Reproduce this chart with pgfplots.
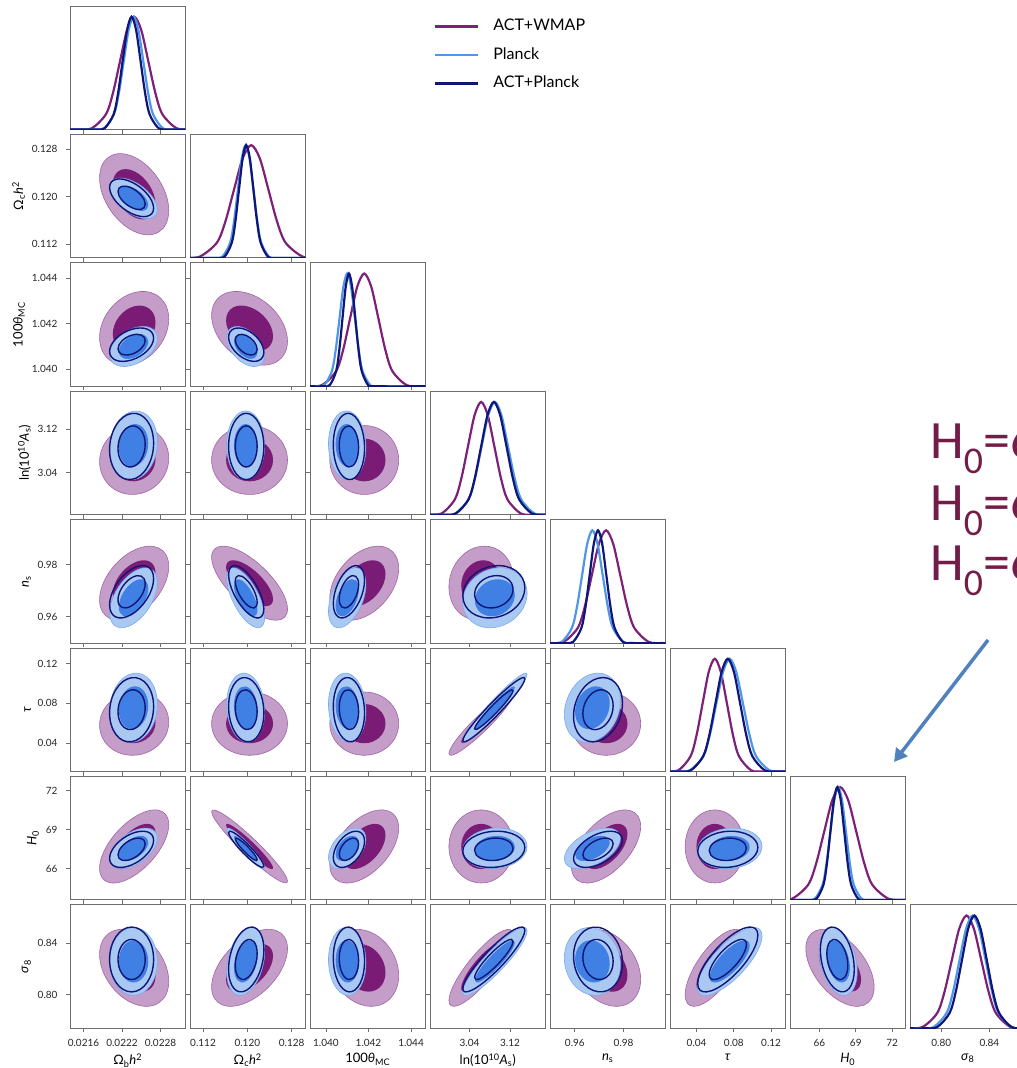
\documentclass[border=0pt]{standalone}
\usepackage{fontspec}
\setmainfont{Lato}
\newfontfamily\calib{Carlito}
\usepackage{pgfplots}
\pgfplotsset{compat=1.18}
\usetikzlibrary{arrows.meta}
\definecolor{awline}{RGB}{125,32,122}
\definecolor{awlt}{RGB}{196,158,201}
\definecolor{awedge}{RGB}{160,100,165}
\definecolor{awdk}{RGB}{122,28,118}
\definecolor{pline}{RGB}{80,150,232}
\definecolor{plt}{RGB}{170,201,242}
\definecolor{pedge}{RGB}{120,170,240}
\definecolor{pdk}{RGB}{64,128,228}
\definecolor{navy}{RGB}{16,22,120}
\definecolor{hcol}{RGB}{116,28,72}
\definecolor{arrowc}{RGB}{79,129,189}
\definecolor{frame}{RGB}{110,110,110}
\pgfplotsset{
 cp/.style={scale only axis, width=115.5pt, height=123.5pt, anchor=north west,
  axis line style={draw=frame, line width=0.9pt},
  tick align=outside, major tick length=4pt,
  every tick/.style={frame, line width=0.9pt},
  xtick pos=bottom, ytick pos=left, scaled ticks=false,
  xticklabels={,,}, yticklabels={,,},
  xticklabel shift=3.5pt, yticklabel shift=5pt,
  ticklabel style={font=\fontsize{10}{12}\selectfont, text=black!85},
  label style={font=\fontsize{13}{15}\selectfont}, clip=true},
 dg/.style={cp, ymin=0, ymax=1.095, ytick=\empty},
 xOb/.style={xmin=0.02139,xmax=0.02319,xtick={0.0216,0.0222,0.0228}},
 xOc/.style={xmin=0.10965,xmax=0.1305,xtick={0.112,0.120,0.128}},
 xTh/.style={xmin=1.03925,xmax=1.04468,xtick={1.040,1.042,1.044}},
 xAs/.style={xmin=2.962,xmax=3.190,xtick={3.04,3.12}},
 xns/.style={xmin=0.9498,xmax=0.9972,xtick={0.96,0.98}},
 xtau/.style={xmin=0.0114,xmax=0.1355,xtick={0.04,0.08,0.12}},
 xH/.style={xmin=63.58,xmax=73.1,xtick={66,69,72}},
 xs8/.style={xmin=0.774,xmax=0.870,xtick={0.80,0.84}},
 yOc/.style={ymin=0.10965,ymax=0.1305,ytick={0.112,0.120,0.128}},
 yTh/.style={ymin=1.03925,ymax=1.04468,ytick={1.040,1.042,1.044}},
 yAs/.style={ymin=2.962,ymax=3.190,ytick={3.04,3.12}},
 yns/.style={ymin=0.9498,ymax=0.9972,ytick={0.96,0.98}},
 ytau/.style={ymin=0.0114,ymax=0.1355,ytick={0.04,0.08,0.12}},
 yH/.style={ymin=63.58,ymax=73.1,ytick={66,69,72}},
 ys8/.style={ymin=0.774,ymax=0.870,ytick={0.80,0.84}},
 bOb/.style={xticklabels={0.0216,0.0222,0.0228},xlabel={Ω\textsubscript{b}\textit{h}\textsuperscript{2}}},
 bOc/.style={xticklabels={0.112,0.120,0.128},xlabel={Ω\textsubscript{c}\textit{h}\textsuperscript{2}}},
 bTh/.style={xticklabels={1.040,1.042,1.044},xlabel={100\textit{θ}\textsubscript{MC}}},
 bAs/.style={xticklabels={3.04,3.12},xlabel={ln(10\textsuperscript{10}\textit{A}\textsubscript{s})}},
 bns/.style={xticklabels={0.96,0.98},xlabel={\textit{n}\textsubscript{s}}},
 btau/.style={xticklabels={0.04,0.08,0.12},xlabel={\textit{τ}}},
 bH/.style={xticklabels={66,69,72},xlabel={\textit{H}\textsubscript{0}}},
 bs8/.style={xticklabels={0.80,0.84},xlabel={\textit{σ}\textsubscript{8}}},
 lOc/.style={yticklabels={0.112,0.120,0.128},ylabel={Ω\textsubscript{c}\textit{h}\textsuperscript{2}}},
 lTh/.style={yticklabels={1.040,1.042,1.044},ylabel={100\textit{θ}\textsubscript{MC}}},
 lAs/.style={yticklabels={3.04,3.12},ylabel={ln(10\textsuperscript{10}\textit{A}\textsubscript{s})}},
 lns/.style={yticklabels={0.96,0.98},ylabel={\textit{n}\textsubscript{s}}},
 ltau/.style={yticklabels={0.04,0.08,0.12},ylabel={\textit{τ}}},
 lH/.style={yticklabels={66,69,72},ylabel={\textit{H}\textsubscript{0}}},
 ls8/.style={yticklabels={0.80,0.84},ylabel={\textit{σ}\textsubscript{8}}},
 AW2/.style={fill=awlt, draw=awedge, line width=0.6pt, smooth cycle, tension=1},
 AW1/.style={fill=awdk, draw=none, smooth cycle, tension=1},
 P2/.style={fill=plt, draw=pedge, line width=0.6pt, smooth cycle, tension=1},
 P1/.style={fill=pdk, draw=none, smooth cycle, tension=1},
 AP2/.style={draw=navy, fill=none, line width=1.4pt, smooth cycle, tension=1},
 AP1/.style={draw=navy, fill=none, line width=1.4pt, smooth cycle, tension=1},
 dAW/.style={awline, line width=2.2pt, smooth},
 dP/.style={pline, line width=2.2pt, smooth},
 dAP/.style={navy, line width=2.2pt, smooth},
}
\begin{document}
\begin{tikzpicture}
% ===== Row 1 =====
\begin{axis}[dg,xOb,at={(70pt,-6pt)},
  legend style={draw=none, fill=none, at={(axis description cs:3.122,0.92)}, anchor=north west,
  font=\fontsize{16}{19}\selectfont, row sep=11.5pt, nodes={inner sep=1pt, text height=11.5pt, text depth=3.5pt}},
  legend cell align=left,
  legend image code/.code={\draw[#1, line width=2.8pt] (0pt,0pt) -- (43pt,0pt); \path (56pt,0pt);}]
\addplot[dAW] coordinates {(0.02139,0) (0.02151,0.0003) (0.02173,0.0111) (0.02195,0.1353) (0.02206,0.3247) (0.02217,0.6065) (0.02228,0.8825) (0.02239,1) (0.0225,0.8825) (0.02261,0.6065) (0.02272,0.3247) (0.02283,0.1353) (0.02305,0.0111) (0.02327,0.0003)};
\addlegendentry{ACT+WMAP}
\addplot[dP] coordinates {(0.02139,0) (0.021772,0.0003) (0.021924,0.0111) (0.022076,0.1353) (0.022152,0.3247) (0.022228,0.6065) (0.022304,0.8825) (0.02238,1) (0.022456,0.8825) (0.022532,0.6065) (0.022608,0.3247) (0.022684,0.1353) (0.022836,0.0111) (0.022988,0.0003) (0.02319,0)};
\addlegendentry{Planck}
\addplot[dAP] coordinates {(0.02139,0) (0.02179,0.0003) (0.02193,0.0111) (0.02207,0.1353) (0.02214,0.3247) (0.02221,0.6065) (0.02228,0.8825) (0.02235,1) (0.02242,0.8825) (0.02249,0.6065) (0.02256,0.3247) (0.02263,0.1353) (0.02277,0.0111) (0.02291,0.0003) (0.02319,0)};
\addlegendentry{ACT+Planck}
\end{axis}
% ===== Row 2 =====
\begin{axis}[cp,xOb,yOc,lOc,at={(70pt,-134.4pt)}]
\addplot[AW2] coordinates {(0.022929,0.11766) (0.02239,0.126678) (0.021851,0.12314) (0.02239,0.114122)};
\addplot[AW1] coordinates {(0.022723,0.118704) (0.02239,0.124286) (0.022057,0.122096) (0.02239,0.116514)};
\addplot[P2] coordinates {(0.022752,0.117813) (0.02238,0.122565) (0.022008,0.121587) (0.02238,0.116835)};
\addplot[P1] coordinates {(0.02261,0.118534) (0.02238,0.121471) (0.02215,0.120866) (0.02238,0.117929)};
\addplot[AP2] coordinates {(0.022693,0.118051) (0.02235,0.122456) (0.022007,0.121549) (0.02235,0.117144)};
\addplot[AP1] coordinates {(0.022562,0.118716) (0.02235,0.121445) (0.022138,0.120884) (0.02235,0.118155)};
\end{axis}
\begin{axis}[dg,xOc,at={(190pt,-134.4pt)}]
\addplot[dAW] coordinates {(0.1083,0.0003) (0.1114,0.0111) (0.1145,0.1353) (0.11605,0.3247) (0.1176,0.6065) (0.11915,0.8825) (0.1207,1) (0.12225,0.8825) (0.1238,0.6065) (0.12535,0.3247) (0.1269,0.1353) (0.13,0.0111) (0.1331,0.0003)};
\addplot[dP] coordinates {(0.10965,0) (0.1141,0.0003) (0.1155,0.0111) (0.1169,0.1353) (0.1176,0.3247) (0.1183,0.6065) (0.119,0.8825) (0.1197,1) (0.1204,0.8825) (0.1211,0.6065) (0.1218,0.3247) (0.1225,0.1353) (0.1239,0.0111) (0.1253,0.0003) (0.1305,0)};
\addplot[dAP] coordinates {(0.10965,0) (0.1146,0.0003) (0.1159,0.0111) (0.1172,0.1353) (0.11785,0.3247) (0.1185,0.6065) (0.11915,0.8825) (0.1198,1) (0.12045,0.8825) (0.1211,0.6065) (0.12175,0.3247) (0.1224,0.1353) (0.1237,0.0111) (0.125,0.0003) (0.1305,0)};
\end{axis}
% ===== Row 3 =====
\begin{axis}[cp,xOb,yTh,lTh,at={(70pt,-262.8pt)}]
\addplot[AW2] coordinates {(0.022929,1.042205) (0.02239,1.043368) (0.021851,1.041395) (0.02239,1.040232)};
\addplot[AW1] coordinates {(0.022723,1.04205) (0.02239,1.042768) (0.022057,1.04155) (0.02239,1.040832)};
\addplot[P2] coordinates {(0.022752,1.041352) (0.02238,1.041807) (0.022008,1.040648) (0.02238,1.040193)};
\addplot[P1] coordinates {(0.02261,1.041218) (0.02238,1.0415) (0.02215,1.040782) (0.02238,1.0405)};
\addplot[AP2] coordinates {(0.022693,1.041374) (0.02235,1.041753) (0.022007,1.040786) (0.02235,1.040407)};
\addplot[AP1] coordinates {(0.022562,1.041262) (0.02235,1.041497) (0.022138,1.040898) (0.02235,1.040663)};
\end{axis}
\begin{axis}[cp,xOc,yTh,at={(190pt,-262.8pt)}]
\addplot[AW2] coordinates {(0.12725,1.041233) (0.1204,1.043317) (0.11355,1.042367) (0.1204,1.040283)};
\addplot[AW1] coordinates {(0.12464,1.04145) (0.1204,1.042737) (0.11616,1.04215) (0.1204,1.040863)};
\addplot[P2] coordinates {(0.12313,1.040604) (0.1197,1.041787) (0.11627,1.041396) (0.1197,1.040213)};
\addplot[P1] coordinates {(0.12182,1.040755) (0.1197,1.041487) (0.11758,1.041245) (0.1197,1.040513)};
\addplot[AP2] coordinates {(0.12298,1.04075) (0.1198,1.041735) (0.11662,1.04141) (0.1198,1.040425)};
\addplot[AP1] coordinates {(0.12177,1.040875) (0.1198,1.041486) (0.11783,1.041285) (0.1198,1.040674)};
\end{axis}
\begin{axis}[dg,xTh,at={(310pt,-262.8pt)}]
\addplot[dAW] coordinates {(1.03916,0.0003) (1.03982,0.0111) (1.04048,0.1353) (1.04081,0.3247) (1.04114,0.6065) (1.04147,0.8825) (1.0418,1) (1.04213,0.8825) (1.04246,0.6065) (1.04279,0.3247) (1.04312,0.1353) (1.04378,0.0111) (1.04444,0.0003) (1.04468,0)};
\addplot[dP] coordinates {(1.03925,0) (1.03956,0.0003) (1.03992,0.0111) (1.04028,0.1353) (1.04046,0.3247) (1.04064,0.6065) (1.04082,0.8825) (1.041,1) (1.04118,0.8825) (1.04136,0.6065) (1.04154,0.3247) (1.04172,0.1353) (1.04208,0.0111) (1.04244,0.0003) (1.04468,0)};
\addplot[dAP] coordinates {(1.03925,0) (1.03988,0.0003) (1.04018,0.0111) (1.04048,0.1353) (1.04063,0.3247) (1.04078,0.6065) (1.04093,0.8825) (1.04108,1) (1.04123,0.8825) (1.04138,0.6065) (1.04153,0.3247) (1.04168,0.1353) (1.04198,0.0111) (1.04228,0.0003) (1.04468,0)};
\end{axis}
% ===== Row 4 =====
\begin{axis}[cp,xOb,yAs,lAs,at={(70pt,-391.2pt)}]
\addplot[AW2] coordinates {(0.022929,3.0662) (0.02239,3.1265) (0.021851,3.0598) (0.02239,2.9995)};
\addplot[AW1] coordinates {(0.022723,3.065) (0.02239,3.1023) (0.022057,3.061) (0.02239,3.0237)};
\addplot[P2] coordinates {(0.022752,3.0964) (0.02238,3.1533) (0.022008,3.0836) (0.02238,3.0267)};
\addplot[P1] coordinates {(0.02261,3.0939) (0.02238,3.1292) (0.02215,3.0861) (0.02238,3.0508)};
\addplot[AP2] coordinates {(0.022693,3.0941) (0.02235,3.1489) (0.022007,3.0819) (0.02235,3.0271)};
\addplot[AP1] coordinates {(0.022562,3.0918) (0.02235,3.1257) (0.022138,3.0842) (0.02235,3.0503)};
\end{axis}
\begin{axis}[cp,xOc,yAs,at={(190pt,-391.2pt)}]
\addplot[AW2] coordinates {(0.12725,3.063) (0.1204,3.1266) (0.11355,3.063) (0.1204,2.9994)};
\addplot[AW1] coordinates {(0.12464,3.063) (0.1204,3.1024) (0.11616,3.063) (0.1204,3.0236)};
\addplot[P2] coordinates {(0.12313,3.09) (0.1197,3.1536) (0.11627,3.09) (0.1197,3.0264)};
\addplot[P1] coordinates {(0.12182,3.09) (0.1197,3.1294) (0.11758,3.09) (0.1197,3.0506)};
\addplot[AP2] coordinates {(0.12298,3.088) (0.1198,3.1492) (0.11662,3.088) (0.1198,3.0268)};
\addplot[AP1] coordinates {(0.12177,3.088) (0.1198,3.1259) (0.11783,3.088) (0.1198,3.0501)};
\end{axis}
\begin{axis}[cp,xTh,yAs,at={(310pt,-391.2pt)}]
\addplot[AW2] coordinates {(1.04342,3.063) (1.0418,3.1266) (1.04018,3.063) (1.0418,2.9994)};
\addplot[AW1] coordinates {(1.0428,3.063) (1.0418,3.1024) (1.0408,3.063) (1.0418,3.0236)};
\addplot[P2] coordinates {(1.041881,3.0868) (1.041,3.1535) (1.040119,3.0932) (1.041,3.0265)};
\addplot[P1] coordinates {(1.041545,3.088) (1.041,3.1293) (1.040455,3.092) (1.041,3.0507)};
\addplot[AP2] coordinates {(1.041814,3.0849) (1.04108,3.1491) (1.040346,3.0911) (1.04108,3.0269)};
\addplot[AP1] coordinates {(1.041535,3.0861) (1.04108,3.1258) (1.040625,3.0899) (1.04108,3.0502)};
\end{axis}
\begin{axis}[dg,xAs,at={(430pt,-391.2pt)}]
\addplot[dAW] coordinates {(2.959,0.0003) (2.985,0.0111) (3.011,0.1353) (3.024,0.3247) (3.037,0.6065) (3.05,0.8825) (3.063,1) (3.076,0.8825) (3.089,0.6065) (3.102,0.3247) (3.115,0.1353) (3.141,0.0111) (3.167,0.0003) (3.19,0)};
\addplot[dP] coordinates {(2.962,0) (2.986,0.0003) (3.012,0.0111) (3.038,0.1353) (3.051,0.3247) (3.064,0.6065) (3.077,0.8825) (3.09,1) (3.103,0.8825) (3.116,0.6065) (3.129,0.3247) (3.142,0.1353) (3.168,0.0111) (3.194,0.0003)};
\addplot[dAP] coordinates {(2.962,0) (2.988,0.0003) (3.013,0.0111) (3.038,0.1353) (3.0505,0.3247) (3.063,0.6065) (3.0755,0.8825) (3.088,1) (3.1005,0.8825) (3.113,0.6065) (3.1255,0.3247) (3.138,0.1353) (3.163,0.0111) (3.188,0.0003) (3.19,0)};
\end{axis}
% ===== Row 5 =====
\begin{axis}[cp,xOb,yns,lns,at={(70pt,-519.6pt)}]
\addplot[AW2] coordinates {(0.022929,0.97919) (0.02239,0.98548) (0.021851,0.96641) (0.02239,0.96012)};
\addplot[AW1] coordinates {(0.022723,0.976756) (0.02239,0.98065) (0.022057,0.968844) (0.02239,0.96495)};
\addplot[P2] coordinates {(0.022752,0.972955) (0.02238,0.977168) (0.022008,0.961445) (0.02238,0.957232)};
\addplot[P1] coordinates {(0.02261,0.97076) (0.02238,0.973366) (0.02215,0.96364) (0.02238,0.961034)};
\addplot[AP2] coordinates {(0.022693,0.97452) (0.02235,0.978195) (0.022007,0.96448) (0.02235,0.960805)};
\addplot[AP1] coordinates {(0.022562,0.972605) (0.02235,0.974878) (0.022138,0.966395) (0.02235,0.964122)};
\end{axis}
\begin{axis}[cp,xOc,yns,at={(190pt,-519.6pt)}]
\addplot[AW2] coordinates {(0.12725,0.96286) (0.1204,0.98294) (0.11355,0.98274) (0.1204,0.96266)};
\addplot[AW1] coordinates {(0.12464,0.966647) (0.1204,0.979077) (0.11616,0.978953) (0.1204,0.966523)};
\addplot[P2] coordinates {(0.12313,0.959718) (0.1197,0.975946) (0.11627,0.974682) (0.1197,0.958454)};
\addplot[P1] coordinates {(0.12182,0.962572) (0.1197,0.97261) (0.11758,0.971828) (0.1197,0.96179)};
\addplot[AP2] coordinates {(0.12298,0.962974) (0.1198,0.977129) (0.11662,0.976026) (0.1198,0.961871)};
\addplot[AP1] coordinates {(0.12177,0.965463) (0.1198,0.974219) (0.11783,0.973537) (0.1198,0.964781)};
\end{axis}
\begin{axis}[cp,xTh,yns,at={(310pt,-519.6pt)}]
\addplot[AW2] coordinates {(1.04342,0.97848) (1.0418,0.985814) (1.04018,0.96712) (1.0418,0.959786)};
\addplot[AW1] coordinates {(1.0428,0.976316) (1.0418,0.980856) (1.0408,0.969284) (1.0418,0.964744)};
\addplot[P2] coordinates {(1.041881,0.97238) (1.041,0.977478) (1.040119,0.96202) (1.041,0.956922)};
\addplot[P1] coordinates {(1.041545,0.970404) (1.041,0.973558) (1.040455,0.963996) (1.041,0.960842)};
\addplot[AP2] coordinates {(1.041814,0.974018) (1.04108,0.978466) (1.040346,0.964982) (1.04108,0.960534)};
\addplot[AP1] coordinates {(1.041535,0.972295) (1.04108,0.975046) (1.040625,0.966705) (1.04108,0.963954)};
\end{axis}
\begin{axis}[cp,xAs,yns,at={(430pt,-519.6pt)}]
\addplot[AW2] coordinates {(3.1266,0.97422) (3.063,0.98693) (2.9994,0.97138) (3.063,0.95867)};
\addplot[AW1] coordinates {(3.1024,0.973679) (3.063,0.981546) (3.0236,0.971921) (3.063,0.964054)};
\addplot[P2] coordinates {(3.1536,0.968927) (3.09,0.97858) (3.0264,0.965473) (3.09,0.95582)};
\addplot[P1] coordinates {(3.1294,0.968268) (3.09,0.97424) (3.0506,0.966132) (3.09,0.96016)};
\addplot[AP2] coordinates {(3.1492,0.971006) (3.088,0.979427) (3.0268,0.967994) (3.088,0.959573)};
\addplot[AP1] coordinates {(3.1259,0.970432) (3.088,0.97564) (3.0501,0.968568) (3.088,0.96336)};
\end{axis}
\begin{axis}[dg,xns,at={(550pt,-519.6pt)}]
\addplot[dAW] coordinates {(0.9496,0.0003) (0.9554,0.0111) (0.9612,0.1353) (0.9641,0.3247) (0.967,0.6065) (0.9699,0.8825) (0.9728,1) (0.9757,0.8825) (0.9786,0.6065) (0.9815,0.3247) (0.9844,0.1353) (0.9902,0.0111) (0.996,0.0003) (0.9972,0)};
\addplot[dP] coordinates {(0.9498,0) (0.9504,0.0003) (0.9546,0.0111) (0.9588,0.1353) (0.9609,0.3247) (0.963,0.6065) (0.9651,0.8825) (0.9672,1) (0.9693,0.8825) (0.9714,0.6065) (0.9735,0.3247) (0.9756,0.1353) (0.9798,0.0111) (0.984,0.0003) (0.9972,0)};
\addplot[dAP] coordinates {(0.9498,0) (0.9559,0.0003) (0.9593,0.0111) (0.9627,0.1353) (0.9644,0.3247) (0.9661,0.6065) (0.9678,0.8825) (0.9695,1) (0.9712,0.8825) (0.9729,0.6065) (0.9746,0.3247) (0.9763,0.1353) (0.9797,0.0111) (0.9831,0.0003) (0.9972,0)};
\end{axis}
% ===== Row 6 =====
\begin{axis}[cp,xOb,ytau,ltau,at={(70pt,-648pt)}]
\addplot[AW2] coordinates {(0.022929,0.06109) (0.02239,0.09126) (0.021851,0.05791) (0.02239,0.02774)};
\addplot[AW1] coordinates {(0.022723,0.060485) (0.02239,0.07917) (0.022057,0.058515) (0.02239,0.03983)};
\addplot[P2] coordinates {(0.022752,0.07898) (0.02238,0.11013) (0.022008,0.07202) (0.02238,0.04087)};
\addplot[P1] coordinates {(0.02261,0.07765) (0.02238,0.09689) (0.02215,0.07335) (0.02238,0.05411)};
\addplot[AP2] coordinates {(0.022693,0.07673) (0.02235,0.10564) (0.022007,0.07027) (0.02235,0.04136)};
\addplot[AP1] coordinates {(0.022562,0.0755) (0.02235,0.0934) (0.022138,0.0715) (0.02235,0.0536)};
\end{axis}
\begin{axis}[cp,xOc,ytau,at={(190pt,-648pt)}]
\addplot[AW2] coordinates {(0.12725,0.0595) (0.1204,0.0913) (0.11355,0.0595) (0.1204,0.0277)};
\addplot[AW1] coordinates {(0.12464,0.0595) (0.1204,0.0792) (0.11616,0.0595) (0.1204,0.0398)};
\addplot[P2] coordinates {(0.12313,0.07202) (0.1197,0.11013) (0.11627,0.07898) (0.1197,0.04087)};
\addplot[P1] coordinates {(0.12182,0.07335) (0.1197,0.09689) (0.11758,0.07765) (0.1197,0.05411)};
\addplot[AP2] coordinates {(0.12298,0.07027) (0.1198,0.10564) (0.11662,0.07673) (0.1198,0.04136)};
\addplot[AP1] coordinates {(0.12177,0.0715) (0.1198,0.0934) (0.11783,0.0755) (0.1198,0.0536)};
\end{axis}
\begin{axis}[cp,xTh,ytau,at={(310pt,-648pt)}]
\addplot[AW2] coordinates {(1.04342,0.0595) (1.0418,0.0913) (1.04018,0.0595) (1.0418,0.0277)};
\addplot[AW1] coordinates {(1.0428,0.0595) (1.0418,0.0792) (1.0408,0.0595) (1.0418,0.0398)};
\addplot[P2] coordinates {(1.041881,0.07202) (1.041,0.11013) (1.040119,0.07898) (1.041,0.04087)};
\addplot[P1] coordinates {(1.041545,0.07335) (1.041,0.09689) (1.040455,0.07765) (1.041,0.05411)};
\addplot[AP2] coordinates {(1.041814,0.07027) (1.04108,0.10564) (1.040346,0.07673) (1.04108,0.04136)};
\addplot[AP1] coordinates {(1.041535,0.0715) (1.04108,0.0934) (1.040625,0.0755) (1.04108,0.0536)};
\end{axis}
\begin{axis}[cp,xAs,ytau,at={(430pt,-648pt)}]
\addplot[AW2] coordinates {(3.1266,0.089392) (3.063,0.07035) (2.9994,0.029608) (3.063,0.04865)};
\addplot[AW1] coordinates {(3.1024,0.078018) (3.063,0.066222) (3.0236,0.040982) (3.063,0.052778)};
\addplot[P2] coordinates {(3.1536,0.108908) (3.09,0.085244) (3.0264,0.042092) (3.09,0.065756)};
\addplot[P1] coordinates {(3.1294,0.09614) (3.09,0.08152) (3.0506,0.05486) (3.09,0.06948)};
\addplot[AP2] coordinates {(3.1492,0.104508) (3.088,0.082544) (3.0268,0.042492) (3.088,0.064456)};
\addplot[AP1] coordinates {(3.1259,0.0927) (3.088,0.0791) (3.0501,0.0543) (3.088,0.0679)};
\end{axis}
\begin{axis}[cp,xns,ytau,at={(550pt,-648pt)}]
\addplot[AW2] coordinates {(0.987,0.0595) (0.9728,0.0913) (0.9586,0.0595) (0.9728,0.0277)};
\addplot[AW1] coordinates {(0.98159,0.0595) (0.9728,0.0792) (0.96401,0.0595) (0.9728,0.0398)};
\addplot[P2] coordinates {(0.97871,0.08246) (0.9672,0.1096) (0.95569,0.06854) (0.9672,0.0414)};
\addplot[P1] coordinates {(0.97432,0.0798) (0.9672,0.09657) (0.96008,0.0712) (0.9672,0.05443)};
\addplot[AP2] coordinates {(0.97954,0.07996) (0.9695,0.10515) (0.95946,0.06704) (0.9695,0.04185)};
\addplot[AP1] coordinates {(0.97571,0.0775) (0.9695,0.0931) (0.96329,0.0695) (0.9695,0.0539)};
\end{axis}
\begin{axis}[dg,xtau,at={(670pt,-648pt)}]
\addplot[dAW] coordinates {(0.0075,0.0003) (0.0205,0.0111) (0.0335,0.1353) (0.04,0.3247) (0.0465,0.6065) (0.053,0.8825) (0.0595,1) (0.066,0.8825) (0.0725,0.6065) (0.079,0.3247) (0.0855,0.1353) (0.0985,0.0111) (0.1115,0.0003) (0.1355,0)};
\addplot[dP] coordinates {(0.0114,0) (0.0187,0.0003) (0.0329,0.0111) (0.0471,0.1353) (0.0542,0.3247) (0.0613,0.6065) (0.0684,0.8825) (0.0755,1) (0.0826,0.8825) (0.0897,0.6065) (0.0968,0.3247) (0.1039,0.1353) (0.1181,0.0111) (0.1323,0.0003) (0.1355,0)};
\addplot[dAP] coordinates {(0.0114,0) (0.0207,0.0003) (0.0339,0.0111) (0.0471,0.1353) (0.0537,0.3247) (0.0603,0.6065) (0.0669,0.8825) (0.0735,1) (0.0801,0.8825) (0.0867,0.6065) (0.0933,0.3247) (0.0999,0.1353) (0.1131,0.0111) (0.1263,0.0003) (0.1355,0)};
\end{axis}
% ===== Row 7 =====
\begin{axis}[cp,xOb,yH,lH,at={(70pt,-776.4pt)}]
\addplot[AW2] coordinates {(0.022929,69.389) (0.02239,69.952) (0.021851,66.011) (0.02239,65.448)};
\addplot[AW1] coordinates {(0.022723,68.745) (0.02239,69.094) (0.022057,66.655) (0.02239,66.306)};
\addplot[P2] coordinates {(0.022752,68.334) (0.02238,68.907) (0.022008,66.766) (0.02238,66.193)};
\addplot[P1] coordinates {(0.02261,68.035) (0.02238,68.39) (0.02215,67.065) (0.02238,66.71)};
\addplot[AP2] coordinates {(0.022693,68.178) (0.02235,68.688) (0.022007,66.782) (0.02235,66.272)};
\addplot[AP1] coordinates {(0.022562,67.912) (0.02235,68.228) (0.022138,67.048) (0.02235,66.732)};
\end{axis}
\begin{axis}[cp,xOc,yH,at={(190pt,-776.4pt)}]
\addplot[AW2] coordinates {(0.12725,65.026) (0.1204,68.579) (0.11355,70.374) (0.1204,66.821)};
\addplot[AW1] coordinates {(0.12464,66.045) (0.1204,68.244) (0.11616,69.355) (0.1204,67.156)};
\addplot[P2] coordinates {(0.12313,66.093) (0.1197,68.126) (0.11627,69.007) (0.1197,66.974)};
\addplot[P1] coordinates {(0.12182,66.648) (0.1197,67.907) (0.11758,68.452) (0.1197,67.193)};
\addplot[AP2] coordinates {(0.12298,66.183) (0.1198,67.993) (0.11662,68.777) (0.1198,66.967)};
\addplot[AP1] coordinates {(0.12177,66.676) (0.1198,67.798) (0.11783,68.284) (0.1198,67.162)};
\end{axis}
\begin{axis}[cp,xTh,yH,at={(310pt,-776.4pt)}]
\addplot[AW2] coordinates {(1.04342,69.108) (1.0418,70.138) (1.04018,66.292) (1.0418,65.262)};
\addplot[AW1] coordinates {(1.0428,68.571) (1.0418,69.209) (1.0408,66.829) (1.0418,66.191)};
\addplot[P2] coordinates {(1.041881,68.255) (1.041,68.949) (1.040119,66.845) (1.041,66.151)};
\addplot[P1] coordinates {(1.041545,67.987) (1.041,68.416) (1.040455,67.113) (1.041,66.684)};
\addplot[AP2] coordinates {(1.041814,68.108) (1.04108,68.726) (1.040346,66.852) (1.04108,66.234)};
\addplot[AP1] coordinates {(1.041535,67.869) (1.04108,68.252) (1.040625,67.091) (1.04108,66.708)};
\end{axis}
\begin{axis}[cp,xAs,yH,at={(430pt,-776.4pt)}]
\addplot[AW2] coordinates {(3.1266,67.7) (3.063,70.515) (2.9994,67.7) (3.063,64.885)};
\addplot[AW1] coordinates {(3.1024,67.7) (3.063,69.442) (3.0236,67.7) (3.063,65.958)};
\addplot[P2] coordinates {(3.1536,67.707) (3.09,69.109) (3.0264,67.393) (3.09,65.991)};
\addplot[P1] coordinates {(3.1294,67.647) (3.09,68.515) (3.0506,67.453) (3.09,66.585)};
\addplot[AP2] coordinates {(3.1492,67.62) (3.088,68.868) (3.0268,67.34) (3.088,66.092)};
\addplot[AP1] coordinates {(3.1259,67.566) (3.088,68.34) (3.0501,67.394) (3.088,66.62)};
\end{axis}
\begin{axis}[cp,xns,yH,at={(550pt,-776.4pt)}]
\addplot[AW2] coordinates {(0.987,69.248) (0.9728,70.051) (0.9586,66.152) (0.9728,65.349)};
\addplot[AW1] coordinates {(0.98159,68.658) (0.9728,69.155) (0.96401,66.742) (0.9728,66.245)};
\addplot[P2] coordinates {(0.97871,68.334) (0.9672,68.907) (0.95569,66.766) (0.9672,66.193)};
\addplot[P1] coordinates {(0.97432,68.035) (0.9672,68.39) (0.96008,67.065) (0.9672,66.71)};
\addplot[AP2] coordinates {(0.97954,68.178) (0.9695,68.688) (0.95946,66.782) (0.9695,66.272)};
\addplot[AP1] coordinates {(0.97571,67.912) (0.9695,68.228) (0.96329,67.048) (0.9695,66.732)};
\end{axis}
\begin{axis}[cp,xtau,yH,at={(670pt,-776.4pt)}]
\addplot[AW2] coordinates {(0.0913,67.7) (0.0595,70.515) (0.0277,67.7) (0.0595,64.885)};
\addplot[AW1] coordinates {(0.0792,67.7) (0.0595,69.442) (0.0398,67.7) (0.0595,65.958)};
\addplot[P2] coordinates {(0.1103,67.707) (0.0755,69.109) (0.0407,67.393) (0.0755,65.991)};
\addplot[P1] coordinates {(0.097,67.647) (0.0755,68.515) (0.054,67.453) (0.0755,66.585)};
\addplot[AP2] coordinates {(0.1058,67.62) (0.0735,68.868) (0.0412,67.34) (0.0735,66.092)};
\addplot[AP1] coordinates {(0.0935,67.566) (0.0735,68.34) (0.0535,67.394) (0.0735,66.62)};
\end{axis}
\begin{axis}[dg,xH,at={(790pt,-776.4pt)}]
\addplot[dAW] coordinates {(62.44,0.0003) (63.76,0.0111) (65.08,0.1353) (65.74,0.3247) (66.4,0.6065) (67.06,0.8825) (67.72,1) (68.38,0.8825) (69.04,0.6065) (69.7,0.3247) (70.36,0.1353) (71.68,0.0111) (73.0,0.0003) (73.1,0)};
\addplot[dP] coordinates {(63.58,0) (64.99,0.0003) (65.63,0.0111) (66.27,0.1353) (66.59,0.3247) (66.91,0.6065) (67.23,0.8825) (67.55,1) (67.87,0.8825) (68.19,0.6065) (68.51,0.3247) (68.83,0.1353) (69.47,0.0111) (70.11,0.0003) (73.1,0)};
\addplot[dAP] coordinates {(63.58,0) (65.2,0.0003) (65.77,0.0111) (66.34,0.1353) (66.625,0.3247) (66.91,0.6065) (67.195,0.8825) (67.48,1) (67.765,0.8825) (68.05,0.6065) (68.335,0.3247) (68.62,0.1353) (69.19,0.0111) (69.76,0.0003) (73.1,0)};
\end{axis}
% ===== Row 8 =====
\begin{axis}[cp,xOb,ys8,bOb,ls8,at={(70pt,-904.8pt)}]
\addplot[AW2] coordinates {(0.022929,0.810535) (0.02239,0.849) (0.021851,0.831465) (0.02239,0.793)};
\addplot[AW1] coordinates {(0.022723,0.814525) (0.02239,0.83833) (0.022057,0.827475) (0.02239,0.80367)};
\addplot[P2] coordinates {(0.022752,0.826) (0.02238,0.8524) (0.022008,0.826) (0.02238,0.7996)};
\addplot[P1] coordinates {(0.02261,0.826) (0.02238,0.8424) (0.02215,0.826) (0.02238,0.8096)};
\addplot[AP2] coordinates {(0.022693,0.8275) (0.02235,0.8527) (0.022007,0.8275) (0.02235,0.8023)};
\addplot[AP1] coordinates {(0.022562,0.8275) (0.02235,0.8431) (0.022138,0.8275) (0.02235,0.8119)};
\end{axis}
\begin{axis}[cp,xOc,ys8,bOc,at={(190pt,-904.8pt)}]
\addplot[AW2] coordinates {(0.12725,0.83595) (0.1204,0.84689) (0.11355,0.80605) (0.1204,0.79511)};
\addplot[AW1] coordinates {(0.12464,0.83025) (0.1204,0.83702) (0.11616,0.81175) (0.1204,0.80498)};
\addplot[P2] coordinates {(0.12313,0.83392) (0.1197,0.85118) (0.11627,0.81808) (0.1197,0.80082)};
\addplot[P1] coordinates {(0.12182,0.83092) (0.1197,0.84164) (0.11758,0.82108) (0.1197,0.81036)};
\addplot[AP2] coordinates {(0.12298,0.83506) (0.1198,0.85154) (0.11662,0.81994) (0.1198,0.80346)};
\addplot[AP1] coordinates {(0.12177,0.83218) (0.1198,0.84238) (0.11783,0.82282) (0.1198,0.81262)};
\end{axis}
\begin{axis}[cp,xTh,ys8,bTh,at={(310pt,-904.8pt)}]
\addplot[AW2] coordinates {(1.04342,0.81502) (1.0418,0.8503) (1.04018,0.82698) (1.0418,0.7917)};
\addplot[AW1] coordinates {(1.0428,0.8173) (1.0418,0.83913) (1.0408,0.8247) (1.0418,0.80287)};
\addplot[P2] coordinates {(1.041881,0.82468) (1.041,0.85237) (1.040119,0.82732) (1.041,0.79963)};
\addplot[P1] coordinates {(1.041545,0.82518) (1.041,0.84238) (1.040455,0.82682) (1.041,0.80962)};
\addplot[AP2] coordinates {(1.041814,0.82624) (1.04108,0.85267) (1.040346,0.82876) (1.04108,0.80233)};
\addplot[AP1] coordinates {(1.041535,0.82672) (1.04108,0.84308) (1.040625,0.82828) (1.04108,0.81192)};
\end{axis}
\begin{axis}[cp,xAs,ys8,bAs,at={(430pt,-904.8pt)}]
\addplot[AW2] coordinates {(3.1266,0.846415) (3.063,0.836751) (2.9994,0.795585) (3.063,0.805249)};
\addplot[AW1] coordinates {(3.1024,0.836725) (3.063,0.830746) (3.0236,0.805275) (3.063,0.811254)};
\addplot[P2] coordinates {(3.1536,0.84976) (3.09,0.837508) (3.0264,0.80224) (3.09,0.814492)};
\addplot[P1] coordinates {(3.1294,0.84076) (3.09,0.833149) (3.0506,0.81124) (3.09,0.818851)};
\addplot[AP2] coordinates {(3.1492,0.85018) (3.088,0.838485) (3.0268,0.80482) (3.088,0.816515)};
\addplot[AP1] coordinates {(3.1259,0.84154) (3.088,0.8343) (3.0501,0.81346) (3.088,0.8207)};
\end{axis}
\begin{axis}[cp,xns,ys8,bns,at={(550pt,-904.8pt)}]
\addplot[AW2] coordinates {(0.987,0.81203) (0.9728,0.84952) (0.9586,0.82997) (0.9728,0.79248)};
\addplot[AW1] coordinates {(0.98159,0.81545) (0.9728,0.83865) (0.96401,0.82655) (0.9728,0.80335)};
\addplot[P2] coordinates {(0.97871,0.82336) (0.9672,0.85227) (0.95569,0.82864) (0.9672,0.79973)};
\addplot[P1] coordinates {(0.97432,0.82436) (0.9672,0.84232) (0.96008,0.82764) (0.9672,0.80968)};
\addplot[AP2] coordinates {(0.97954,0.82498) (0.9695,0.85257) (0.95946,0.83002) (0.9695,0.80243)};
\addplot[AP1] coordinates {(0.97571,0.82594) (0.9695,0.84302) (0.96329,0.82906) (0.9695,0.81198)};
\end{axis}
\begin{axis}[cp,xtau,ys8,btau,at={(670pt,-904.8pt)}]
\addplot[AW2] coordinates {(0.0913,0.84193) (0.0595,0.84235) (0.0277,0.80007) (0.0595,0.79965)};
\addplot[AW1] coordinates {(0.0792,0.83395) (0.0595,0.83421) (0.0398,0.80805) (0.0595,0.80779)};
\addplot[P2] coordinates {(0.1103,0.8458) (0.0755,0.84346) (0.0407,0.8062) (0.0755,0.80854)};
\addplot[P1] coordinates {(0.097,0.8383) (0.0755,0.83685) (0.054,0.8137) (0.0755,0.81515)};
\addplot[AP2] coordinates {(0.1058,0.8464) (0.0735,0.84417) (0.0412,0.8086) (0.0735,0.81083)};
\addplot[AP1] coordinates {(0.0935,0.8392) (0.0735,0.83782) (0.0535,0.8158) (0.0735,0.81718)};
\end{axis}
\begin{axis}[cp,xH,ys8,bH,at={(790pt,-904.8pt)}]
\addplot[AW2] coordinates {(70.515,0.80605) (67.7,0.84689) (64.885,0.83595) (67.7,0.79511)};
\addplot[AW1] coordinates {(69.442,0.81175) (67.7,0.83702) (65.958,0.83025) (67.7,0.80498)};
\addplot[P2] coordinates {(69.117,0.81808) (67.55,0.85118) (65.983,0.83392) (67.55,0.80082)};
\addplot[P1] coordinates {(68.52,0.82108) (67.55,0.84164) (66.58,0.83092) (67.55,0.81036)};
\addplot[AP2] coordinates {(68.875,0.81994) (67.48,0.85154) (66.085,0.83506) (67.48,0.80346)};
\addplot[AP1] coordinates {(68.344,0.82282) (67.48,0.84238) (66.616,0.83218) (67.48,0.81262)};
\end{axis}
\begin{axis}[dg,xs8,bs8,at={(910pt,-904.8pt)}]
\addplot[dAW] coordinates {(0.7722,0.0003) (0.7844,0.0111) (0.7966,0.1353) (0.8027,0.3247) (0.8088,0.6065) (0.8149,0.8825) (0.821,1) (0.8271,0.8825) (0.8332,0.6065) (0.8393,0.3247) (0.8454,0.1353) (0.8576,0.0111) (0.8698,0.0003) (0.87,0)};
\addplot[dP] coordinates {(0.774,0) (0.7828,0.0003) (0.7936,0.0111) (0.8044,0.1353) (0.8098,0.3247) (0.8152,0.6065) (0.8206,0.8825) (0.826,1) (0.8314,0.8825) (0.8368,0.6065) (0.8422,0.3247) (0.8476,0.1353) (0.8584,0.0111) (0.8692,0.0003) (0.87,0)};
\addplot[dAP] coordinates {(0.774,0) (0.7863,0.0003) (0.7966,0.0111) (0.8069,0.1353) (0.81205,0.3247) (0.8172,0.6065) (0.82235,0.8825) (0.8275,1) (0.83265,0.8825) (0.8378,0.6065) (0.84295,0.3247) (0.8481,0.1353) (0.8584,0.0111) (0.8687,0.0003) (0.87,0)};
\end{axis}
% ===== annotations =====
\node[anchor=base west, inner sep=0pt, text=hcol, font=\calib\fontsize{54}{60}\selectfont] at (930pt,-458pt) {H\textsubscript{0}=6};
\node[anchor=base west, inner sep=0pt, text=hcol, font=\calib\fontsize{54}{60}\selectfont] at (930pt,-520pt) {H\textsubscript{0}=6};
\node[anchor=base west, inner sep=0pt, text=hcol, font=\calib\fontsize{54}{60}\selectfont] at (930pt,-580pt) {H\textsubscript{0}=6};
\draw[arrowc, line width=3.5pt, -{Triangle[width=14pt,length=13pt]}] (988pt,-640pt) -- (894pt,-762pt);
\pgfresetboundingbox
\useasboundingbox (0pt,0pt) rectangle (1017pt,-1068pt);
\end{tikzpicture}
\end{document}
